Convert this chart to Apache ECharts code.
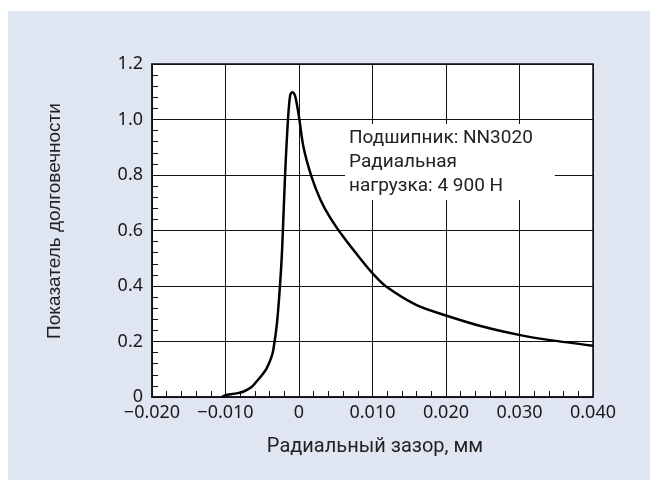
<!DOCTYPE html>
<html><head><meta charset="utf-8">
<script src="https://cdn.jsdelivr.net/npm/echarts@6/dist/echarts.min.js"></script>
<style>
html,body{margin:0;padding:0;background:#fff;}
#bg{position:absolute;left:8px;top:11px;width:642px;height:469px;background:#e0e5f2;}
#c{position:absolute;left:0;top:0;width:650px;height:484px;}
</style></head>
<body><div id="bg"></div><div id="c"></div>
<script>
const clearance = [-0.0105,-0.0098,-0.0085,-0.0076,-0.0065,-0.0058,-0.0050,-0.0044,-0.0038,-0.0035,-0.0030,-0.0026,-0.0023,-0.0019,-0.0015,-0.0012,-0.0009,-0.0006,-0.0004,0,0.0006,0.0017,0.0029,0.0042,0.0060,0.0083,0.0102,0.0119,0.0160,0.0202,0.0251,0.0301,0.0342,0.0400];
const lifeIndex = [0.0,0.008,0.013,0.019,0.035,0.055,0.080,0.103,0.140,0.169,0.265,0.397,0.530,0.797,0.999,1.088,1.098,1.090,1.070,1.010,0.902,0.794,0.712,0.648,0.578,0.500,0.440,0.397,0.331,0.292,0.253,0.223,0.205,0.185];
const xTitle = 'Радиальный зазор, мм';
const yTitle = 'Показатель долговечности';
const noteLines = ['Подшипник: NN3020','Радиальная','нагрузка: 4 900 Н'];

const chart = echarts.init(document.getElementById('c'), null, {renderer:'canvas'});
const lblFont = '"Noto Sans", sans-serif';
chart.setOption({
  backgroundColor: 'transparent',
  animation: false,
  grid: {left:152, right:57, top:64, bottom:87, show:true, backgroundColor:'#fff', borderColor:'#111', borderWidth:1.5},
  xAxis: {
    type:'value', min:-0.02, max:0.04, interval:0.01,
    axisLine:{show:true, onZero:false, lineStyle:{color:'#111', width:1.5}},
    axisTick:{show:true, inside:true, length:7, lineStyle:{color:'#111'}},
    minorTick:{show:true, splitNumber:5, length:6, lineStyle:{color:'#111'}},
    splitLine:{show:true, lineStyle:{color:'#111', width:1}},
    axisLabel:{color:'#1a1a1a', fontSize:18, fontFamily:lblFont, margin:7, showMaxLabel:true, showMinLabel:true,
      formatter: v => Math.abs(v) < 1e-9 ? '0' : (v < 0 ? '\u2212' + Math.abs(v).toFixed(3) : v.toFixed(3))}
  },
  yAxis: {
    type:'value', min:0, max:1.2, interval:0.2,
    axisLine:{show:true, onZero:false, lineStyle:{color:'#111', width:1.5}},
    axisTick:{show:true, inside:true, length:7, lineStyle:{color:'#111'}},
    minorTick:{show:true, splitNumber:5, length:6, lineStyle:{color:'#111'}},
    splitLine:{show:true, lineStyle:{color:'#111', width:1}},
    axisLabel:{color:'#1a1a1a', fontSize:18, fontFamily:lblFont, margin:9,
      formatter: v => Math.abs(v) < 1e-9 ? '0' : v.toFixed(1)}
  },
  series: [{
    type:'line', data: clearance.map((x,i)=>[x, lifeIndex[i]]),
    smooth:0.3, showSymbol:false, lineStyle:{color:'#000', width:2.5}, z:3
  }],
  graphic: [
    {type:'text', left:345, top:124, z:10,
      style:{text:noteLines.join('\n'), font:'19px Roboto, sans-serif', fill:'#222', lineHeight:24,
        backgroundColor:'#fff', padding:[2,22,2,4]}},
    {type:'text', x:375, y:447, style:{text:xTitle, font:'20px Roboto, sans-serif', fill:'#222', align:'center', verticalAlign:'middle'}},
    {type:'text', x:55, y:221, rotation:Math.PI/2, style:{text:yTitle, font:'19px "Liberation Sans", sans-serif', fill:'#222', align:'center', verticalAlign:'middle'}}
  ]
});
</script></body></html>
